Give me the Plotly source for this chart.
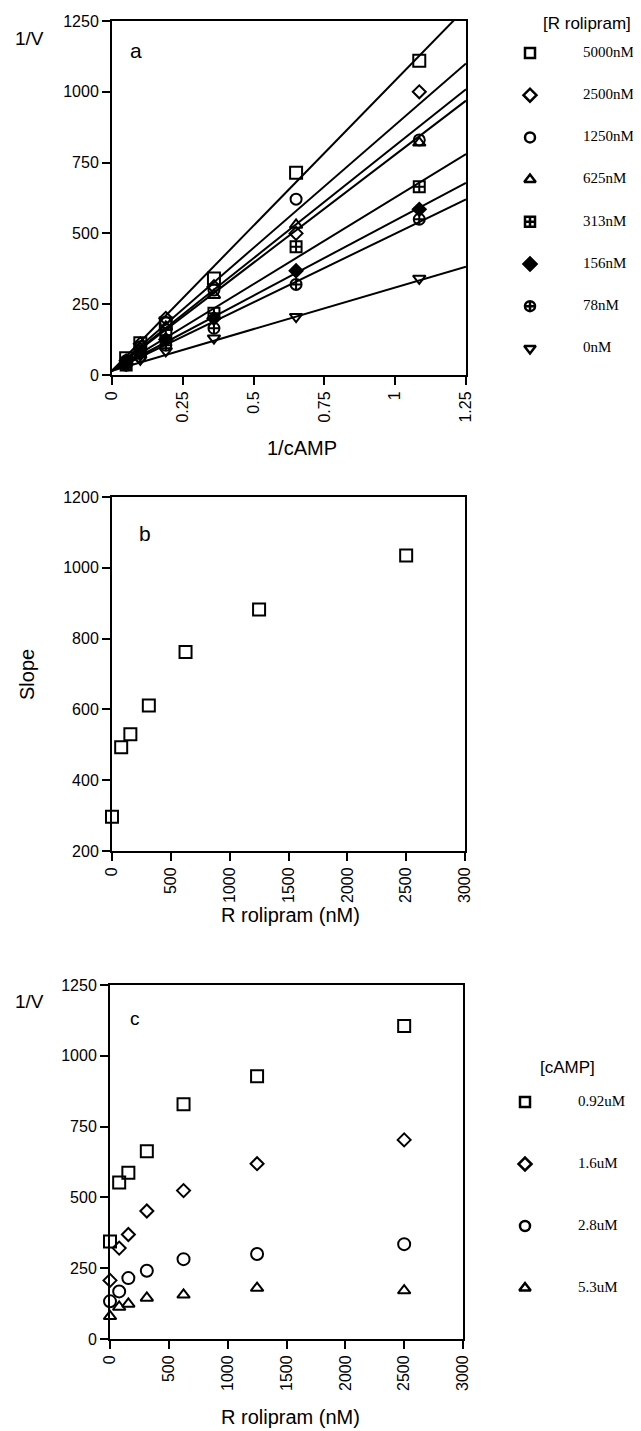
import plotly.graph_objects as go

# --- Données ---
inv_camp = [0.05, 0.10, 0.19, 0.36, 0.65, 1.085]
rolipram_a = ["5000nM", "2500nM", "1250nM", "625nM", "313nM", "156nM", "78nM", "0nM"]
v_5000 = [59, 112, 182, 341, 714, 1110]
v_2500 = [50, 110, 200, 312, 500, 1000]
v_1250 = [50, 100, 185, 300, 621, 830]
v_625 = [45, 95, 170, 282, 530, 820]
v_313 = [35, 85, 140, 218, 453, 665]
v_156 = [40, 75, 125, 200, 368, 585]
v_78 = [35, 65, 105, 165, 320, 550]
v_0 = [35, 55, 85, 130, 206, 341]
fit_slope = [1025, 868, 795, 763, 612, 531, 484, 294]
fit_intercept = [15, 15, 15, 15, 15, 15, 15, 15]
fit_x = [0, 1.25]

rolipram_b = [0, 78, 156, 313, 625, 1250, 2500]
slope_b = [297, 493, 530, 611, 762, 882, 1035]

rolipram_c = [0, 78, 156, 313, 625, 1250, 2500]
camp_labels = ["0.92uM", "1.6uM", "2.8uM", "5.3uM"]
c_092 = [344, 553, 587, 663, 829, 928, 1105]
c_16 = [207, 321, 369, 452, 524, 619, 703]
c_28 = [133, 168, 215, 241, 282, 300, 335]
c_53 = [80, 113, 124, 145, 156, 180, 171]

series_a = [v_5000, v_2500, v_1250, v_625, v_313, v_156, v_78, v_0]
series_c = [c_092, c_16, c_28, c_53]

# --- Style ---
PAGE_W, PAGE_H = 641, 1431
OFF = 8  # marge par défaut du <body>
W, H = PAGE_W - OFF, PAGE_H - OFF
SANS = "Liberation Sans, Arial, sans-serif"
SERIF = "Liberation Serif, Times New Roman, serif"
sym_a = ["square-open", "diamond-open", "circle-open", "triangle-up-open",
         "square-cross-open", "diamond", "circle-cross-open", "triangle-down-open"]
size_a = [12, 10, 11, 11, 11, 10, 11, 11]
sym_c = ["square-open", "diamond-open", "circle-open", "triangle-up-open"]
size_c = [12, 10, 12, 11]


def px(x):
    return (x - OFF) / W


def py(y):
    return 1 - (y - OFF) / H


fig = go.Figure()

# --- Panneau a : droites + points ---
for slope, b in zip(fit_slope, fit_intercept):
    fig.add_trace(go.Scatter(x=fit_x, y=[b + slope * x for x in fit_x], mode="lines",
                             line=dict(color="black", width=2), xaxis="x", yaxis="y",
                             showlegend=False, hoverinfo="skip"))
for vals, s, sz in zip(series_a, sym_a, size_a):
    fig.add_trace(go.Scatter(x=inv_camp, y=vals, mode="markers", cliponaxis=False,
                             marker=dict(symbol=s, size=sz, color="black",
                                         line=dict(color="black", width=2)),
                             xaxis="x", yaxis="y", showlegend=False))

# --- Panneau b ---
fig.add_trace(go.Scatter(x=rolipram_b, y=slope_b, mode="markers", cliponaxis=False,
                         marker=dict(symbol="square-open", size=12, color="black",
                                     line=dict(color="black", width=2)),
                         xaxis="x2", yaxis="y2", showlegend=False))

# --- Panneau c ---
for vals, s, sz in zip(series_c, sym_c, size_c):
    fig.add_trace(go.Scatter(x=rolipram_c, y=vals, mode="markers", cliponaxis=False,
                             marker=dict(symbol=s, size=sz, color="black",
                                         line=dict(color="black", width=2)),
                             xaxis="x3", yaxis="y3", showlegend=False))

# --- Légendes dessinées sur un axe caché (unités = pixels de la page) ---
LEG_A_SYM_X, LEG_A_TXT_X, LEG_A_Y0, LEG_A_STEP = 530, 583, 53, 42.2
LEG_C_SYM_X, LEG_C_TXT_X, LEG_C_Y0, LEG_C_STEP = 525, 578, 1102, 62

ya = [LEG_A_Y0 + i * LEG_A_STEP for i in range(len(rolipram_a))]
yc = [LEG_C_Y0 + i * LEG_C_STEP for i in range(len(camp_labels))]
for y, s in zip(ya, sym_a):
    fig.add_trace(go.Scatter(x=[LEG_A_SYM_X], y=[y], mode="markers", cliponaxis=False,
                             marker=dict(symbol=s, size=10, color="black",
                                         line=dict(color="black", width=2.5)),
                             xaxis="x4", yaxis="y4", showlegend=False, hoverinfo="skip"))
fig.add_trace(go.Scatter(x=[LEG_A_TXT_X] * len(ya), y=ya, mode="text", text=rolipram_a,
                         textposition="middle right", cliponaxis=False,
                         textfont=dict(family=SERIF, size=15, color="black"),
                         xaxis="x4", yaxis="y4", showlegend=False, hoverinfo="skip"))
for y, s in zip(yc, sym_c):
    fig.add_trace(go.Scatter(x=[LEG_C_SYM_X], y=[y], mode="markers", cliponaxis=False,
                             marker=dict(symbol=s, size=10, color="black",
                                         line=dict(color="black", width=2.5)),
                             xaxis="x4", yaxis="y4", showlegend=False, hoverinfo="skip"))
fig.add_trace(go.Scatter(x=[LEG_C_TXT_X] * len(yc), y=yc, mode="text", text=camp_labels,
                         textposition="middle right", cliponaxis=False,
                         textfont=dict(family=SERIF, size=15, color="black"),
                         xaxis="x4", yaxis="y4", showlegend=False, hoverinfo="skip"))

axis_style = dict(showline=True, linewidth=2, linecolor="black", mirror=True,
                  ticks="outside", ticklen=8, tickwidth=2, tickcolor="black",
                  showgrid=False, zeroline=False, automargin=False,
                  tickfont=dict(family=SANS, size=16, color="black"))

fig.update_layout(
    width=W, height=H,
    margin=dict(l=0, r=0, t=0, b=0, pad=0, autoexpand=False),
    paper_bgcolor="white", plot_bgcolor="rgba(0,0,0,0)",
    font=dict(family=SANS, color="black"),
    xaxis=dict(domain=[px(112), px(466)], range=[0, 1.25], tickangle=-90,
               tickvals=[0, 0.25, 0.5, 0.75, 1, 1.25],
               ticktext=["0", "0.25", "0.5", "0.75", "1", "1.25"], **axis_style),
    yaxis=dict(domain=[py(375), py(21)], range=[0, 1250], tickvals=[0, 250, 500, 750, 1000, 1250],
               **axis_style),
    xaxis2=dict(domain=[px(112), px(465)], range=[0, 3000], tickangle=-90,
                tickvals=[0, 500, 1000, 1500, 2000, 2500, 3000], anchor="y2", **axis_style),
    yaxis2=dict(domain=[py(851), py(497)], range=[200, 1200],
                tickvals=[200, 400, 600, 800, 1000, 1200], anchor="x2", **axis_style),
    xaxis3=dict(domain=[px(110), px(463)], range=[0, 3000], tickangle=-90,
                tickvals=[0, 500, 1000, 1500, 2000, 2500, 3000], anchor="y3", **axis_style),
    yaxis3=dict(domain=[py(1339), py(985)], range=[0, 1250],
                tickvals=[0, 250, 500, 750, 1000, 1250], anchor="x3", **axis_style),
    xaxis4=dict(domain=[0, 1], range=[OFF, PAGE_W], visible=False, anchor="y4", automargin=False),
    yaxis4=dict(domain=[0, 1], range=[PAGE_H, OFF], visible=False, anchor="x4", automargin=False),
)

# --- Textes ---
def label(txt, x, y, size, family=SANS, angle=0):
    fig.add_annotation(text=txt, x=px(x), y=py(y), xref="paper", yref="paper",
                       showarrow=False, textangle=angle, xanchor="center", yanchor="middle",
                       font=dict(family=family, size=size, color="black"))


label("[R rolipram]", 587, 23, 17)
label("[cAMP]", 567, 1067, 17)
label("1/V", 29, 39, 19)
label("1/V", 29, 1002, 19)
label("a", 136, 51, 21)
label("b", 145, 533, 21)
label("c", 135, 1018, 19)
label("1/cAMP", 302, 448, 20)
label("Slope", 27, 675, 20, angle=-90)
label("R rolipram (nM)", 290, 915, 20)
label("R rolipram (nM)", 290, 1417, 20)

fig.write_html("out.html")
